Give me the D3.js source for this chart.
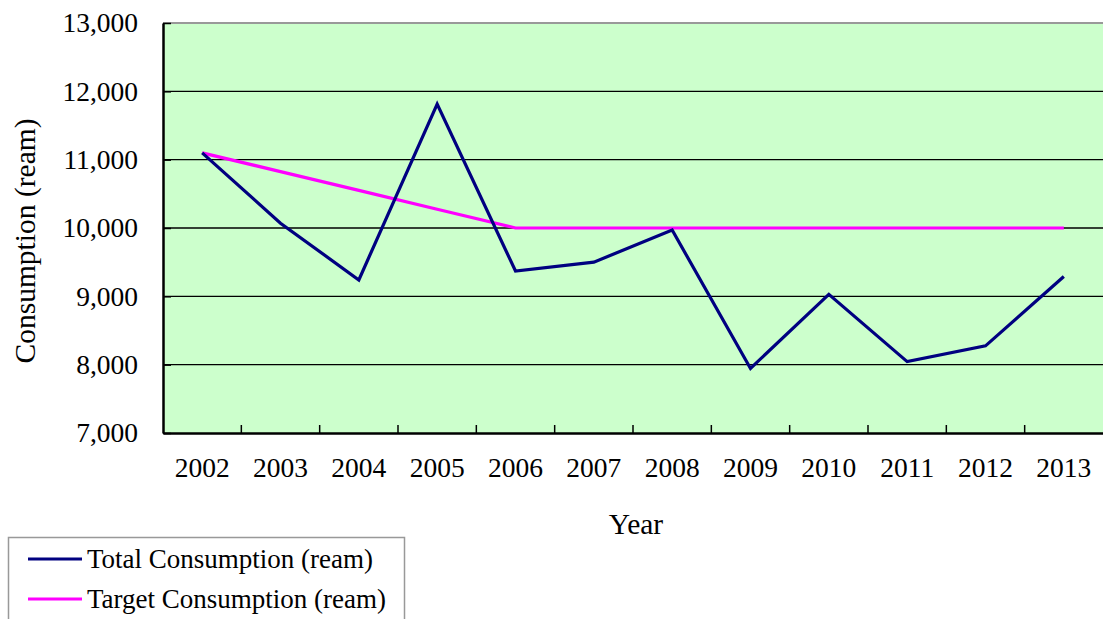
<!DOCTYPE html>
<html><head><meta charset="utf-8">
<script src="https://cdn.jsdelivr.net/npm/d3@7"></script>
<style>body{margin:0;background:#fff}svg{display:block}text{font-family:"Liberation Serif","Times New Roman",serif;fill:#000}</style>
</head><body>
<script>
const years = ["2002","2003","2004","2005","2006","2007","2008","2009","2010","2011","2012","2013"];
const totalConsumption = [11100, 10070, 9240, 11815, 9370, 9500, 9970, 7945, 9030, 8045, 8275, 9290];
const targetConsumption = [11100, 10825, 10550, 10275, 10000, 10000, 10000, 10000, 10000, 10000, 10000, 10000];
const yTicks = [7000, 8000, 9000, 10000, 11000, 12000, 13000];
const seriesNames = ["Total Consumption (ream)", "Target Consumption (ream)"];
const seriesColors = ["#000080", "#FF00FF"];

const W = 1103, H = 619;
const m = {left:163, right:1103, top:23, bottom:433};
const svg = d3.select("body").append("svg").attr("width", W).attr("height", H);

const x = d3.scaleBand().domain(years).range([m.left, m.right]);
const y = d3.scaleLinear().domain([7000, 13000]).range([m.bottom, m.top]);

svg.append("rect").attr("x", m.left).attr("y", m.top).attr("width", m.right - m.left).attr("height", m.bottom - m.top).attr("fill", "#CCFFCC");
svg.append("line").attr("x1", m.left).attr("x2", m.right).attr("y1", m.top).attr("y2", m.top).attr("stroke", "#999").attr("stroke-width", 2);

// gridlines
svg.append("g").selectAll("line").data(yTicks.slice(1, -1)).join("line")
  .attr("x1", m.left).attr("x2", m.right).attr("y1", d => y(d)).attr("y2", d => y(d))
  .attr("stroke", "#000").attr("stroke-width", 1.3);

// y axis
const yAxis = svg.append("g").attr("transform", `translate(${m.left},0)`)
  .call(d3.axisLeft(y).tickValues(yTicks).tickFormat(d3.format(",")).tickSizeInner(-8).tickSizeOuter(0).tickPadding(25));
yAxis.select(".domain").attr("stroke", "#000").attr("stroke-width", 2.5);
yAxis.selectAll(".tick line").attr("stroke", "#000").attr("stroke-width", 1.5);
yAxis.selectAll("text").attr("font-size", 27.5).style("font-family", "'Liberation Serif', serif");

// x axis
const xAxis = svg.append("g").attr("transform", `translate(0,${m.bottom})`)
  .call(d3.axisBottom(x).tickSize(0).tickPadding(24));
xAxis.select(".domain").attr("stroke", "#000").attr("stroke-width", 2.5);
xAxis.selectAll("text").attr("font-size", 27.5).style("font-family", "'Liberation Serif', serif");
svg.append("g").selectAll("line").data(years.slice(1)).join("line")
  .attr("x1", d => x(d)).attr("x2", d => x(d)).attr("y1", m.bottom).attr("y2", m.bottom - 8)
  .attr("stroke", "#000").attr("stroke-width", 1.5);

// lines
const line = d3.line().x((d, i) => x(years[i]) + x.bandwidth() / 2).y(d => y(d));
[targetConsumption, totalConsumption].forEach((vals, k) => {
  svg.append("path").datum(vals).attr("d", line).attr("fill", "none")
    .attr("stroke", k === 0 ? seriesColors[1] : seriesColors[0]).attr("stroke-width", 3.2)
    .attr("stroke-linejoin", "miter");
});

// axis titles
svg.append("text").attr("transform", "translate(35,241) rotate(-90)").attr("text-anchor", "middle")
  .attr("font-size", 29.5).text("Consumption (ream)");
svg.append("text").attr("x", 636).attr("y", 534).attr("text-anchor", "middle").attr("font-size", 29.5).text("Year");

// legend
const lg = svg.append("g");
lg.append("rect").attr("x", 8.5).attr("y", 537.5).attr("width", 396).attr("height", 100).attr("fill", "#fff").attr("stroke", "#999").attr("stroke-width", 1.5);
seriesNames.forEach((n, i) => {
  const yy = 559 + i * 40;
  lg.append("line").attr("x1", 28).attr("x2", 82).attr("y1", yy).attr("y2", yy).attr("stroke", seriesColors[i]).attr("stroke-width", 3.2);
  lg.append("text").attr("x", 87).attr("y", yy + 9).attr("font-size", 27).text(n);
});
</script>
</body></html>
